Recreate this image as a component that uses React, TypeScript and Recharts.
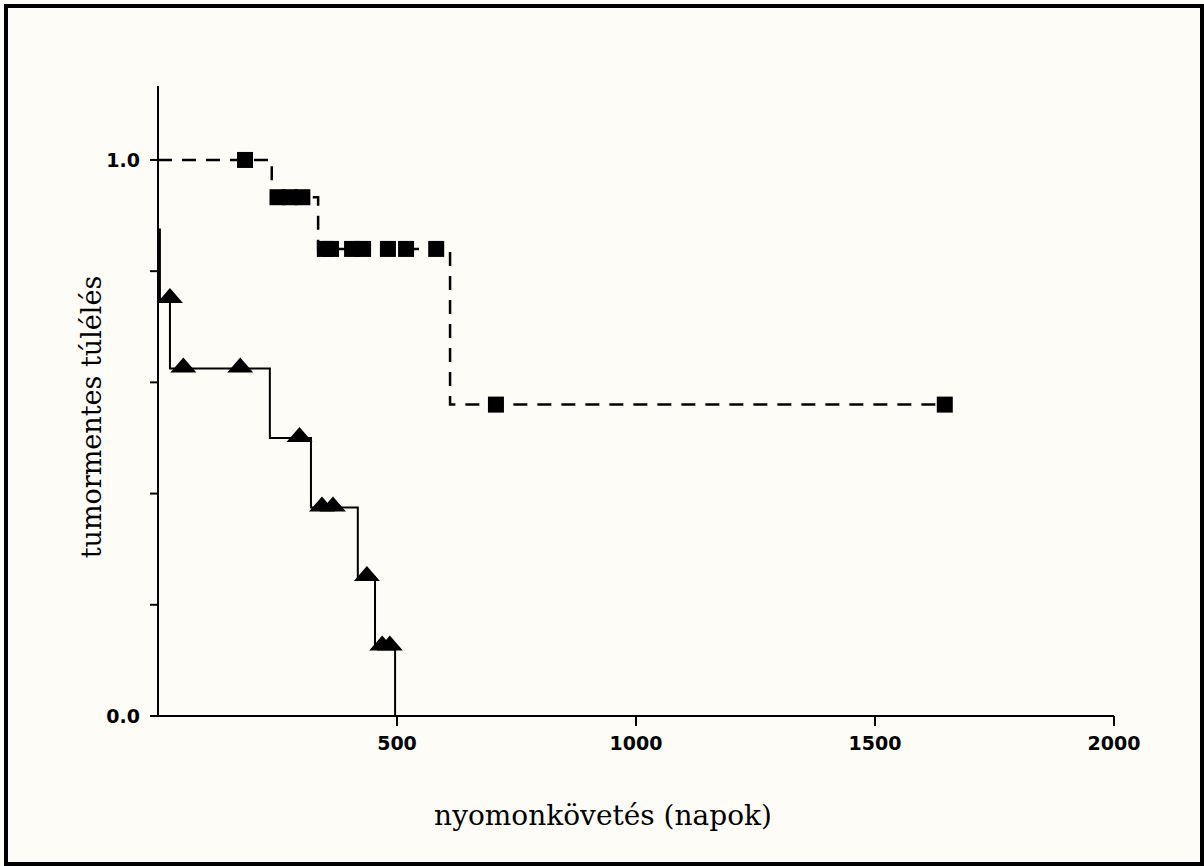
import React from 'react';
import { ComposedChart, Line, Scatter, XAxis, YAxis, Label } from 'recharts';

// Solid curve (triangles group): step times (days) and survival values
const solidDays = [0, 4, 25, 234, 320, 418, 454, 496];
const solidSurv = [0.875, 0.75, 0.625, 0.5, 0.375, 0.25, 0.125, 0];
// Triangle markers
const triDays = [25, 53, 172, 296, 343, 366, 437, 469, 485];
const triSurv = [0.75, 0.625, 0.625, 0.5, 0.375, 0.375, 0.25, 0.125, 0.125];

// Dashed curve (squares group)
const dashDays = [0, 238, 335, 611, 1646];
const dashSurv = [1.0, 0.933, 0.84, 0.56, 0.56];
// Square markers
const sqDays = [182, 250, 276, 302, 349, 362, 406, 429, 481, 519, 582, 707, 1646];
const sqSurv = [1.0, 0.933, 0.933, 0.933, 0.84, 0.84, 0.84, 0.84, 0.84, 0.84, 0.84, 0.56, 0.56];

const xTicks = [500, 1000, 1500, 2000];
const yTicks = [0, 0.2, 0.4, 0.6, 0.8, 1.0];
const yTickLabels: Record<string, string> = { '0': '0.0', '1': '1.0' };

const xTitle = 'nyomonkövetés (napok)';
const yTitle = 'tumormentes túlélés';

const zip = (t: number[], s: number[]) => t.map((d, i) => ({ t: d, s: s[i] }));
const solidData = zip(solidDays, solidSurv);
const triData = zip(triDays, triSurv);
const dashData = zip(dashDays, dashSurv);
const sqData = zip(sqDays, sqSurv);

const Square = (p: any) => {
  if (p.cx == null || p.cy == null) return null;
  return <rect x={p.cx - 8} y={p.cy - 8} width={16} height={16} fill="#000" />;
};

const Triangle = (p: any) => {
  if (p.cx == null || p.cy == null) return null;
  const { cx, cy } = p;
  return <path d={`M${cx},${cy - 11} L${cx + 13},${cy + 4} L${cx - 13},${cy + 4} Z`} fill="#000" />;
};

const tickStyle = { fill: '#000', fontSize: 19, fontWeight: 'bold' as const, fontFamily: 'DejaVu Sans' };

export default function App() {
  return (
    <div style={{ position: 'absolute', left: 0, top: 0, width: 1204, height: 866, background: '#fdfcf7' }}>
      <div
        style={{
          position: 'absolute',
          left: 4,
          top: 4,
          width: 1200,
          height: 862,
          border: '4px solid #000',
          boxSizing: 'border-box',
        }}
      />
      <div style={{ position: 'absolute', left: 0, top: 0 }}>
        <ComposedChart width={1204} height={866} margin={{ top: 86, right: 90, bottom: 0, left: 0 }}>
          <XAxis
            type="number"
            dataKey="t"
            domain={[0, 2000]}
            ticks={xTicks}
            allowDataOverflow
            height={150}
            stroke="#000"
            axisLine={{ stroke: '#000', strokeWidth: 2 }}
            tickLine={{ stroke: '#000', strokeWidth: 2 }}
            tickSize={10}
            tickMargin={11}
            tick={tickStyle}
          >
            <Label
              content={() => (
                <text x={603} y={825} textAnchor="middle" fontFamily="DejaVu Serif" fontSize={28} fill="#000">
                  {xTitle}
                </text>
              )}
            />
          </XAxis>
          <YAxis
            type="number"
            dataKey="s"
            domain={[0, 1.133]}
            ticks={yTicks}
            allowDataOverflow
            width={158}
            stroke="#000"
            axisLine={{ stroke: '#000', strokeWidth: 2 }}
            tickLine={{ stroke: '#000', strokeWidth: 2 }}
            tickSize={8}
            tickMargin={10}
            tick={tickStyle}
            tickFormatter={(v: number) => yTickLabels[String(v)] ?? ''}
          >
            <Label
              content={() => (
                <text
                  x={101}
                  y={417}
                  transform="rotate(-90 101 417)"
                  textAnchor="middle"
                  fontFamily="DejaVu Serif"
                  fontSize={27}
                  fill="#000"
                >
                  {yTitle}
                </text>
              )}
            />
          </YAxis>
          <Line
            data={dashData}
            dataKey="s"
            type="stepAfter"
            stroke="#000"
            strokeWidth={2.5}
            strokeDasharray="14 10"
            dot={false}
            activeDot={false}
            isAnimationActive={false}
          />
          <Line
            data={solidData}
            dataKey="s"
            type="stepAfter"
            stroke="#000"
            strokeWidth={2}
            dot={false}
            activeDot={false}
            isAnimationActive={false}
          />
          <Scatter data={sqData} dataKey="s" shape={<Square />} isAnimationActive={false} />
          <Scatter data={triData} dataKey="s" shape={<Triangle />} isAnimationActive={false} />
        </ComposedChart>
      </div>
    </div>
  );
}
